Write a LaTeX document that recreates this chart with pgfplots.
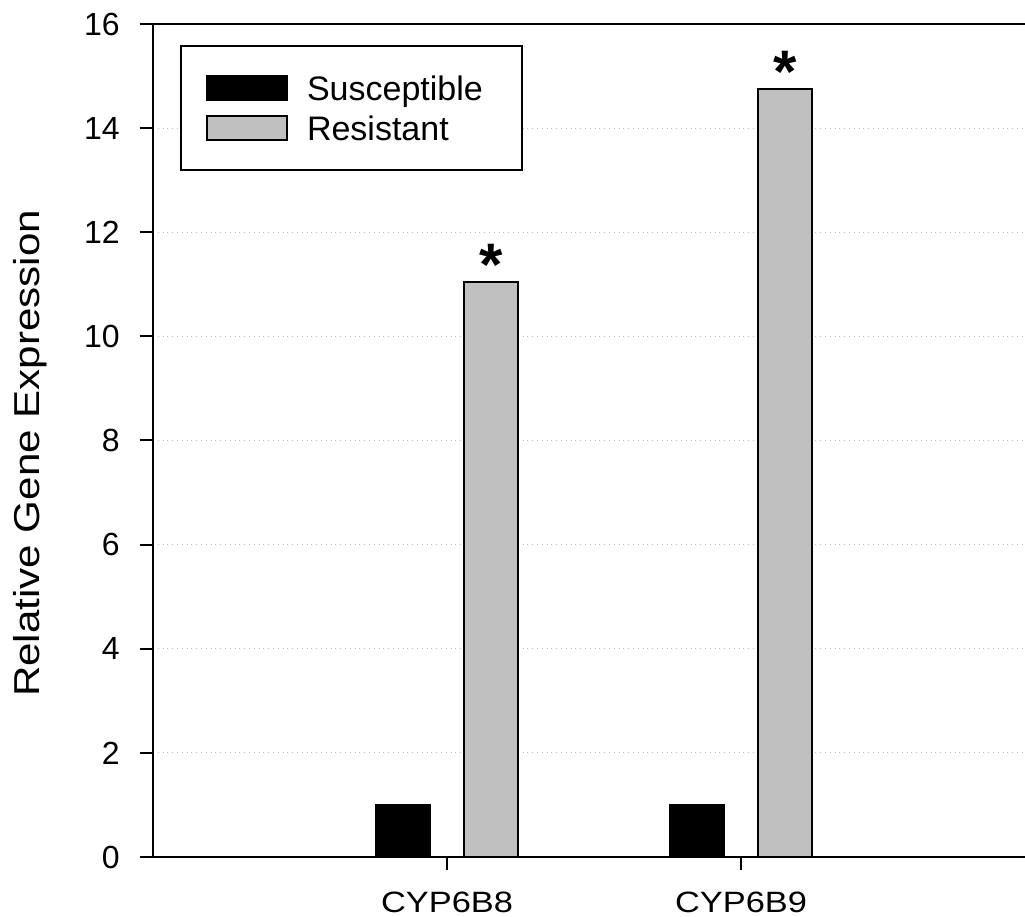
\documentclass[border=0pt]{standalone}
\usepackage{fontspec}
\setmainfont{Liberation Sans}
\newfontfamily\labelfont[FakeStretch=1.17]{Liberation Sans}
\usepackage{pgfplots}
\pgfplotsset{compat=1.18}
\definecolor{resgray}{RGB}{192,192,192}
\begin{document}
\begin{tikzpicture}
\begin{axis}[
  name=ax,
  scale only axis, width=436pt, height=416.5pt,
  xmin=-1, xmax=1.966, ymin=0, ymax=16,
  axis x line*=bottom, axis y line*=left,
  axis line style={line width=1pt},
  xtick={0,1}, xticklabels={CYP6B8,CYP6B9},
  ytick={0,2,...,16},
  tick align=outside, major tick length=6.5pt,
  tick style={line width=1pt, black},
  /pgf/number format/assume math mode=true,
  yticklabel style={font=\fontsize{16}{16}\selectfont, inner sep=0pt, xshift=-10pt},
  xticklabel style={font=\labelfont\fontsize{14.7}{14.7}\selectfont, inner sep=0pt, anchor=north, yshift=-11pt},
  ymajorgrids, major grid style={dotted, black!25, line width=0.6pt},
  ylabel={Relative Gene Expression},
  ylabel style={font=\labelfont\fontsize{18}{18}\selectfont, at={(rel axis cs:-0.160,0.4844)}, anchor=north, inner sep=0pt},
  ybar, bar width=27pt,
  legend style={at={(0.031,0.975)}, anchor=north west, draw=black, line width=1pt,
    inner xsep=12.5pt, inner ysep=14.5pt, row sep=6.8pt,
    font=\fontsize{17}{17}\selectfont,
    nodes={inner sep=0pt, text height=12.2pt, text depth=0pt},
    /tikz/column sep=9.5pt},
  legend cell align=left,
  legend image code/.code={\draw[#1, line width=1pt] (0pt,-6.1pt) rectangle (40pt,6.1pt);},
]
\addplot[fill=black, draw=black, line width=1pt, bar shift=-22pt] coordinates {(0,1) (1,1)};
\addlegendentry{Susceptible\hspace*{7pt}}
\addplot[fill=resgray, draw=black, line width=1pt, bar shift=22pt,
  nodes near coords={\fontsize{30}{30}\selectfont\bfseries *},
  every node near coord/.append style={anchor=base, inner sep=0pt, yshift=-1.8pt, black}]
  coordinates {(0,11.05) (1,14.75)};
\addlegendentry{Resistant}
\draw[line width=1pt] (rel axis cs:0,1) -- (rel axis cs:1,1);
\end{axis}
\pgfresetboundingbox
\path ([shift={(-76.5pt,-30pt)}]ax.south west) rectangle ([shift={(0pt,12pt)}]ax.north east);
\end{tikzpicture}
\end{document}
